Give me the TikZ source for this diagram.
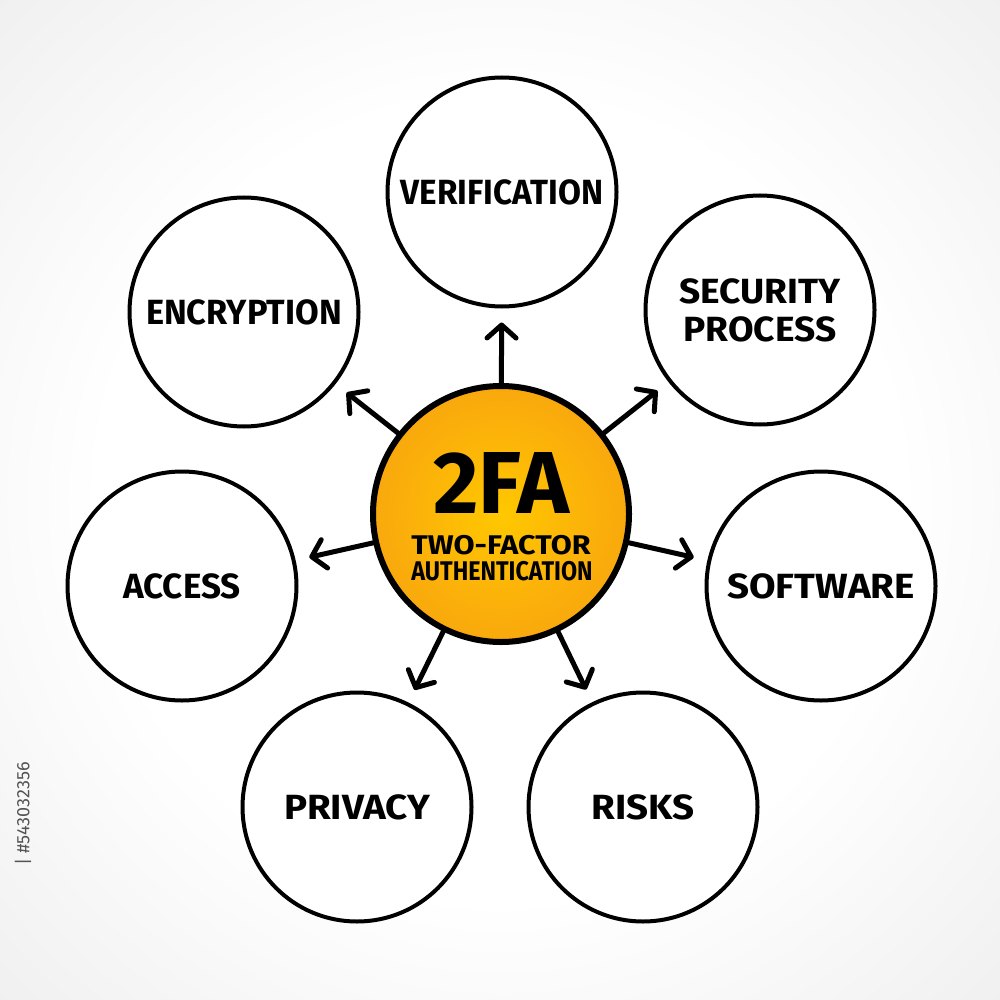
\documentclass[tikz,border=0pt]{standalone}
\usepackage{fontspec}
\usepackage{graphicx}
\setmainfont{Fira Sans}
\usetikzlibrary{arrows.meta}
\definecolor{bgedge}{HTML}{E2E2E2}
\definecolor{orin}{HTML}{FFC800}
\definecolor{ormid}{HTML}{FBB00A}
\definecolor{orout}{HTML}{F59A12}
\pgfdeclareradialshading{bgshade}{\pgfpoint{0bp}{0bp}}{color(0bp)=(white); color(20bp)=(white); color(50bp)=(bgedge)}
\pgfdeclareradialshading{orshade}{\pgfpoint{0bp}{0bp}}{color(0bp)=(orin); color(18bp)=(ormid); color(38bp)=(orout); color(50bp)=(orout)}
\newcommand{\sxx}[2]{\scalebox{#1}[1]{#2}}
\begin{document}
\begin{tikzpicture}[x=1pt,y=-1pt,
  bubble/.style={circle, draw=black, line width=4pt, fill=white, minimum size=229pt, inner sep=0pt,
    font=\fontsize{35}{38}\selectfont\bfseries, align=center},
  hub/.style={circle, draw=black, line width=6pt, shading=orshade, minimum size=256pt, inner sep=0pt},
  arr/.style={line width=5pt, line cap=round, -{Straight Barb[round,length=13pt,width=29pt]}, shorten >=14pt},
  lbl/.style={inner sep=0pt, font=\bfseries},
]
\useasboundingbox (0,0) rectangle (1000,1000);
\shade[shading=bgshade] (0,0) rectangle (1000,1000);
\node[rotate=90, text=gray!65!black, font=\fontsize{18}{18}\selectfont, inner sep=0pt] (sid) at (23,814) {| \#543032356};

\node[hub] (c) at (501,514) {};
\node[lbl, font=\fontsize{88}{88}\selectfont\bfseries] (t2fa) at (501,483) {2FA};
\node[lbl, font=\fontsize{27}{27}\selectfont\bfseries] (tfac) at (501,545) {\sxx{1.13}{TWO-FACTOR}};
\node[lbl, font=\fontsize{27}{27}\selectfont\bfseries] (tauth) at (502,571) {\sxx{0.865}{AUTHENTICATION}};

\node[bubble] (ver) at (502,192) {\sxx{0.95}{VERIFICATION}};
\node[bubble] (enc) at (244,312) {\sxx{0.98}{ENCRYPTION}};
\node[bubble] (sec) at (760,310) {\sxx{1.06}{SECURITY}\\\sxx{1.06}{PROCESS}};
\node[bubble] (acc) at (182,586) {\sxx{1.0}{ACCESS}};
\node[bubble] (sof) at (821,586) {\sxx{1.1}{SOFTWARE}};
\node[bubble] (pri) at (357,807) {\sxx{1.1}{PRIVACY}};
\node[bubble] (ris) at (643,807) {\sxx{1.1}{RISKS}};

\foreach \t in {ver,enc,sec,acc,sof,pri,ris}
  \draw[arr] (c) -- (\t);
\end{tikzpicture}
\end{document}
